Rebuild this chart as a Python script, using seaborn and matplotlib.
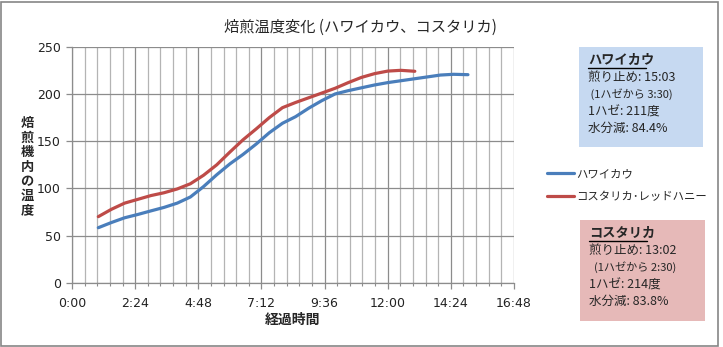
import matplotlib
matplotlib.use("Agg")
import matplotlib.pyplot as plt
from matplotlib.patches import Rectangle
from matplotlib.ticker import MultipleLocator
import seaborn as sns
import pandas as pd

# Roast time in minutes and chamber temperature
hawaii_t = [1.0, 1.5, 2.0, 2.5, 3.0, 3.5, 4.0, 4.5, 5.0, 5.5, 6.0, 6.5, 7.0, 7.5,
            8.0, 8.5, 9.0, 9.5, 10.0, 10.5, 11.0, 11.5, 12.0, 12.5, 13.0, 13.5,
            14.0, 14.5, 15.05]
hawaii_temp = [58.5, 64, 69, 72.5, 76.3, 80, 84.5, 91, 102, 114.5, 126, 136, 147, 159,
               169, 176, 185, 193, 200, 203.5, 206.5, 209.5, 212, 214, 216, 218,
               220, 220.8, 220.4]
costa_t = [1.0, 1.5, 2.0, 2.5, 3.0, 3.5, 4.0, 4.5, 5.0, 5.5, 6.0, 6.5, 7.0, 7.5,
           8.0, 8.5, 9.0, 9.5, 10.0, 10.5, 11.0, 11.5, 12.0, 12.5, 13.03]
costa_temp = [70.2, 78, 84.5, 88.5, 92.5, 95.5, 99.5, 105, 114, 125, 138.5, 151.5, 163,
              175, 185.5, 191, 196, 201, 206, 212, 217.5, 221.5, 224.2, 225, 224]

series_names = ["ハワイカウ", "コスタリカ･レッドハニー"]
x_ticks = [0, 2.4, 4.8, 7.2, 9.6, 12.0, 14.4, 16.8]
x_ticklabels = ["0:00", "2:24", "4:48", "7:12", "9:36", "12:00", "14:24", "16:48"]
y_ticks = [0, 50, 100, 150, 200, 250]

title = "焙煎温度変化 (ハワイカウ、コスタリカ)"
x_label = "経過時間"
y_label = "焙煎機内の温度"

hawaii_box = ["ハワイカウ", "煎り止め: 15:03", " (1ハゼから 3:30)", "1ハゼ: 211度", "水分減: 84.4%"]
costa_box = ["コスタリカ", "煎り止め: 13:02", "  (1ハゼから 2:30)", "1ハゼ: 214度", "水分減: 83.8%"]

df = pd.concat([
    pd.DataFrame({"time": hawaii_t, "temp": hawaii_temp, "series": series_names[0]}),
    pd.DataFrame({"time": costa_t, "temp": costa_temp, "series": series_names[1]}),
])

sns.set_theme(style="white")
plt.rcParams["font.family"] = ["Noto Sans CJK JP", "DejaVu Sans"]

W, H = 723, 347
fig = plt.figure(figsize=(W / 100, H / 100), dpi=100)
ax = fig.add_axes([72 / W, (H - 283) / H, 442 / W, 236.3 / H])

palette = {series_names[0]: "#4a7ebb", series_names[1]: "#be4b48"}
sns.lineplot(data=df, x="time", y="temp", hue="series", palette=palette,
             linewidth=2.3, ax=ax, sort=False, legend=True)

ax.set_xlim(0, 16.8)
ax.set_ylim(0, 250)
ax.set_xticks(x_ticks)
ax.set_xticklabels(x_ticklabels, fontsize=9, family="DejaVu Sans")
ax.set_yticks(y_ticks)
ax.set_yticklabels([str(v) for v in y_ticks], fontsize=9, family="DejaVu Sans")
ax.xaxis.set_minor_locator(MultipleLocator(0.48))
ax.grid(True, which="minor", axis="x", color="#b4b4b4", linewidth=0.9)
ax.grid(True, which="major", axis="both", color="#8c8c8c", linewidth=0.9)
ax.set_axisbelow(True)
for side in ["top", "right"]:
    ax.spines[side].set_visible(False)
for side in ["left", "bottom"]:
    ax.spines[side].set_color("#8c8c8c")
    ax.spines[side].set_linewidth(0.9)
ax.tick_params(axis="both", which="major", length=4, width=0.9, color="#8c8c8c",
               pad=4, direction="out", bottom=True, left=True, labelcolor="#222222")
ax.tick_params(axis="x", which="minor", length=2, width=0.8, color="#8c8c8c",
               bottom=True, direction="out")
ax.tick_params(axis="x", which="major", pad=6)
ax.set_xlabel("")
ax.set_ylabel("")

# Vertical y-axis caption with stacked characters
fig.text(27 / W, 1 - 167 / H, "\n".join(y_label), ha="center", va="center",
         fontsize=9.5, fontweight="bold", linespacing=1.05)
fig.text(293 / W, 1 - 320 / H, x_label, ha="center", va="center",
         fontsize=10, fontweight="bold")
fig.text(360 / W, 1 - 27 / H, title, ha="center", va="center", fontsize=11)

# Legend
handles, labels = ax.get_legend_handles_labels()
ax.legend(handles, labels, loc="upper left", bbox_to_anchor=(547 / W, 1 - 169 / H),
          bbox_transform=fig.transFigure, frameon=False, fontsize=8.2,
          handlelength=2.4, handletextpad=0.2, labelspacing=1.15, borderpad=0,
          borderaxespad=0)


def info_box(x0, y0, x1, y1, color, lines):
    fig.patches.append(Rectangle((x0 / W, 1 - y1 / H), (x1 - x0) / W, (y1 - y0) / H,
                                 transform=fig.transFigure, facecolor=color,
                                 edgecolor="none", zorder=0))
    y = y0 + 13
    for i, line in enumerate(lines):
        if i == 0:
            fig.text((x0 + 9) / W, 1 - y / H, line, ha="left", va="center",
                     fontsize=9.5, fontweight="bold")
            fig.add_artist(plt.Line2D([(x0 + 9) / W, (x0 + 67) / W],
                                      [1 - (y + 8) / H, 1 - (y + 8) / H],
                                      transform=fig.transFigure, color="black",
                                      linewidth=1.0))
        elif line.startswith(" "):
            fig.text((x0 + 9) / W, 1 - y / H, line, ha="left", va="center",
                     fontsize=8)
        else:
            fig.text((x0 + 9) / W, 1 - y / H, line, ha="left", va="center",
                     fontsize=9)
        y += 17.2


info_box(579, 47, 703, 147, "#c6d9f1", hawaii_box)
info_box(580, 220, 705, 321, "#e6b9b8", costa_box)

# Chart frame
fig.patches.append(Rectangle((1 / W, 1 / H), (W - 6) / W, (H - 3) / H,
                             transform=fig.transFigure, facecolor="none",
                             edgecolor="#868686", linewidth=1.2, zorder=5))

fig.savefig("out.png", dpi=100)
